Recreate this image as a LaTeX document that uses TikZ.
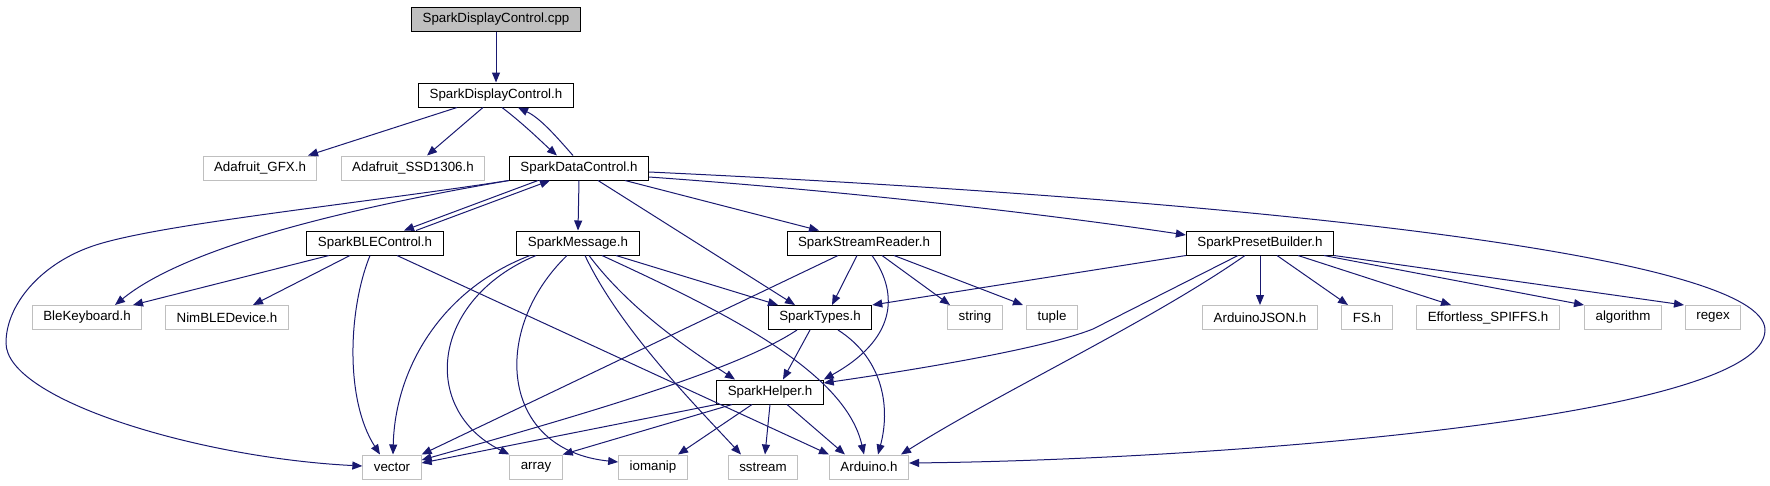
\documentclass[tikz,border=0pt]{standalone}
\usepackage{fontspec}
\setmainfont{Liberation Sans}
\usetikzlibrary{arrows.meta}
\definecolor{edgeblue}{RGB}{25,25,112}
\definecolor{extgrey}{RGB}{191,191,191}

\begin{document}
\begin{tikzpicture}[x=1pt, y=-1pt, every node/.style={font=\fontsize{13.33}{16}\selectfont, inner xsep=11pt, inner ysep=0pt, minimum height=24pt}, >={Triangle[length=10pt, width=8pt]},
	hdr/.style={draw=black, line width=1pt, fill=white},
	ext/.style={draw=extgrey, line width=1pt, fill=white},
	dep/.style={->, draw=edgeblue, line width=1pt}]
	\useasboundingbox (0,0) rectangle (1770,485);
	\node[hdr, fill=extgrey] (cpp) at (496,19) {SparkDisplayControl.cpp};
	\node[hdr] (sdc) at (496,95) {SparkDisplayControl.h};
	\node[hdr] (dc) at (579,168) {SparkDataControl.h};
	\node[hdr] (ble) at (375,243) {SparkBLEControl.h};
	\node[hdr] (msg) at (578,243) {SparkMessage.h};
	\node[hdr] (ssr) at (864,243) {SparkStreamReader.h};
	\node[hdr] (spb) at (1260,243) {SparkPresetBuilder.h};
	\node[hdr] (typ) at (820,317.5) {SparkTypes.h};
	\node[hdr] (hlp) at (770,392) {SparkHelper.h};
	\foreach \n/\x/\y/\t in {gfx/260/168/Adafruit\_GFX.h, ssd/413/168/Adafruit\_SSD1306.h,
		kbd/87/317.5/BleKeyboard.h, nim/227/317.5/NimBLEDevice.h, str/975/317.5/string, tup/1052/317.5/tuple,
		json/1260/317.5/ArduinoJSON.h, fs/1367/317.5/FS.h, spiffs/1488/317.5/Effortless\_SPIFFS.h,
		alg/1623/317.5/algorithm, rgx/1713/317.5/regex,
		vec/392/467/vector, arr/536/467/array, iom/653/467/iomanip, sst/763/467/sstream, ard/869/467/Arduino.h} {
		\node[ext] (\n) at (\x,\y) {\t};
	}
	\draw[dep] (cpp) -- (sdc);
	\draw[dep] ([xshift=-39pt]sdc.south) -- ([xshift=48pt]gfx.north);
	\draw[dep] ([xshift=-13pt]sdc.south) -- ([xshift=14pt]ssd.north);
	\draw[dep] ([xshift=6pt]sdc.south) .. controls (525,125) and (545,145) .. ([xshift=-22pt]dc.north);
	\draw[dep] ([xshift=-6pt]dc.north) .. controls (555,135) and (540,118) .. ([xshift=22pt]sdc.south);
	\draw[dep] ([xshift=-41pt]dc.south) -- ([xshift=29pt]ble.north);
	\draw[dep] ([xshift=41pt]ble.north) -- ([xshift=-29pt]dc.south);
	\draw[dep] (dc.south west) .. controls (320,213) and (180,252) .. ([xshift=28pt]kbd.north);
	\draw[dep] (dc.south west) .. controls (350,205) and (150,225) .. (90,247) .. controls (40,265) and (6,305) .. (6,343) .. controls (6,400) and (200,458) .. ([yshift=1pt]vec.west);
	\draw[dep] (dc.south) -- (msg.north);
	\draw[dep] ([xshift=19pt]dc.south) -- ([xshift=-25pt]typ.north);
	\draw[dep] ([xshift=46pt]dc.south) -- ([xshift=-45pt]ssr.north);
	\draw[dep] ([yshift=-9pt]dc.east) .. controls (900,195) and (1100,222) .. ([yshift=8pt]spb.west);
	\draw[dep] ([yshift=-4pt]dc.east) .. controls (1250,200) and (1765,255) .. (1765,330) .. controls (1765,420) and (1200,460) .. ([yshift=4pt]ard.east);
	\draw[dep] ([xshift=-46pt]ble.south) -- ([xshift=46pt]kbd.north);
	\draw[dep] ([xshift=-25pt]ble.south) -- ([xshift=26pt]nim.north);
	\draw[dep] ([xshift=-5pt]ble.south) .. controls (348,310) and (345,400) .. ([xshift=-12pt]vec.north);
	\draw[dep] ([xshift=22pt]ble.south) -- (ard.north west);
	\draw[dep] ([xshift=-48pt]msg.south) .. controls (440,290) and (395,370) .. ([xshift=1pt]vec.north);
	\draw[dep] ([xshift=-42pt]msg.south) .. controls (430,300) and (420,410) .. (arr.north west);
	\draw[dep] ([xshift=-11pt]msg.south) .. controls (490,330) and (500,450) .. ([yshift=5pt]iom.west);
	\draw[dep] ([xshift=7pt]msg.south) .. controls (620,330) and (700,410) .. ([xshift=-22pt]sst.north);
	\draw[dep] ([xshift=11pt]msg.south) .. controls (630,310) and (690,350) .. ([xshift=-35pt]hlp.north);
	\draw[dep] ([xshift=24pt]msg.south) .. controls (720,310) and (845,370) .. ([xshift=-5pt]ard.north);
	\draw[dep] ([xshift=38pt]msg.south) -- ([xshift=-42pt]typ.north);
	\draw[dep] ([xshift=-26pt]ssr.south) -- (vec.north east);
	\draw[dep] ([xshift=-7pt]ssr.south) -- ([xshift=12pt]typ.north);
	\draw[dep] ([xshift=8pt]ssr.south) .. controls (900,295) and (895,340) .. (hlp.north east);
	\draw[dep] ([xshift=18pt]ssr.south) -- ([xshift=-25pt]str.north);
	\draw[dep] ([xshift=30pt]ssr.south) -- ([xshift=-29pt]tup.north);
	\draw[dep] (spb.south west) -- (typ.north east);
	\draw[dep] ([xshift=-22pt]spb.south) -- (1093,329) .. controls (1040,350) and (900,372) .. ([yshift=9pt]hlp.east);
	\draw[dep] ([xshift=-15pt]spb.south) .. controls (1150,322) and (1000,392) .. ([xshift=32pt]ard.north);
	\draw[dep] (spb.south) -- (json.north);
	\draw[dep] ([xshift=17pt]spb.south) -- ([xshift=-19pt]fs.north);
	\draw[dep] ([xshift=38pt]spb.south) -- ([xshift=-37pt]spiffs.north);
	\draw[dep] ([xshift=64pt]spb.south) -- ([xshift=-39pt]alg.north);
	\draw[dep] (spb.south east) -- ([xshift=-29pt]rgx.north);
	\draw[dep] ([xshift=-23pt]typ.south) .. controls (740,368) and (600,410) .. ([yshift=7pt]vec.east);
	\draw[dep] ([xshift=-10pt]typ.south) -- ([xshift=13pt]hlp.north);
	\draw[dep] ([xshift=18pt]typ.south) .. controls (885,360) and (890,410) .. ([xshift=9pt]ard.north);
	\draw[dep] (hlp.south west) -- ([yshift=4pt]vec.east);
	\draw[dep] ([xshift=-38pt]hlp.south) -- (arr.north east);
	\draw[dep] ([xshift=-18pt]hlp.south) -- ([xshift=25pt]iom.north);
	\draw[dep] (hlp.south) -- ([xshift=2pt]sst.north);
	\draw[dep] ([xshift=17pt]hlp.south) -- ([xshift=-24pt]ard.north);
\end{tikzpicture}
\end{document}
